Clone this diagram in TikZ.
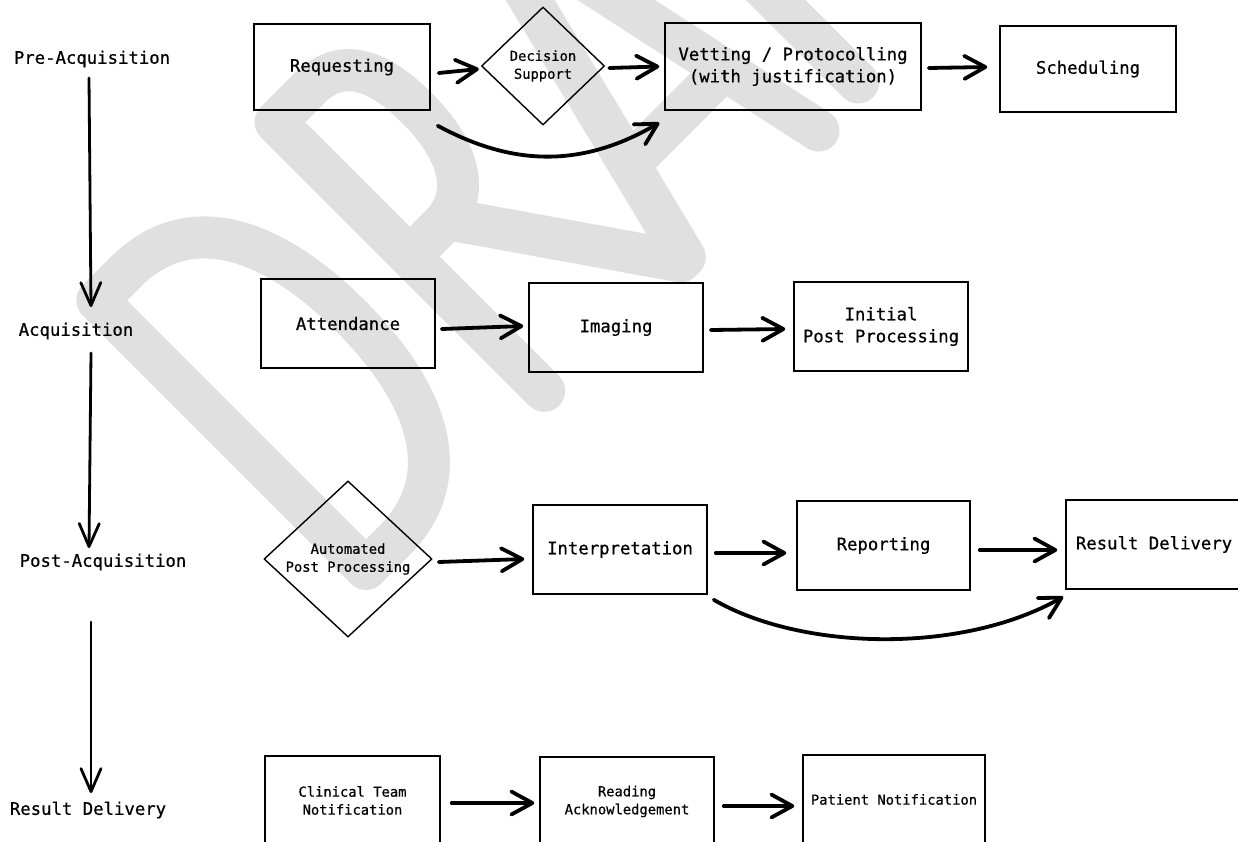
\documentclass[tikz,border=0pt]{standalone}
\usepackage{fontspec}
\setmonofont[FakeBold=0.6]{DejaVu Sans Mono}
\usetikzlibrary{shapes.geometric,arrows.meta,calc}
\newcommand\mytxtL{\ttfamily\fontsize{17.3}{22}\selectfont}
\newcommand\mytxtS{\ttfamily\fontsize{13.8}{18}\selectfont}
\begin{document}
\begin{tikzpicture}[x=1pt,y=-1pt,
  box/.style={draw, line width=1.5pt, inner sep=0pt, align=center, font=\mytxtL},
  sbox/.style={box, font=\mytxtS},
  dia/.style={draw, shape=diamond, line width=1.4pt, inner sep=0pt, align=center, font=\mytxtS},
  lab/.style={inner sep=0pt, font=\mytxtL},
  arr/.style={line width=3.8pt, line cap=round, -{Straight Barb[round,length=21pt,width=23pt]}},
  varr/.style={line width=2.8pt, line cap=round, -{Straight Barb[round,length=23pt,width=20pt]}},
  wmk/.style={line width=42pt, line cap=round, line join=round, draw=black!12}
]
\useasboundingbox (0,0) rectangle (1238,841);
\fill[white] (0,0) rectangle (1238,841);

% watermark
\coordinate (wmO) at (366,569);
\begin{scope}[shift={(wmO)}, x={(0.7071pt,0.7071pt)}, y={(-0.7071pt,0.7071pt)}, wmk]
  \draw (0,0) -- (0,380) -- (40,380) .. controls (130,380) and (168,300) .. (168,190)
        .. controls (168,80) and (130,0) .. (40,0) -- cycle;
  \draw (252,0) -- (252,380) -- (300,380) .. controls (345,380) and (362,345) .. (362,290)
        .. controls (362,230) and (340,190) .. (295,190) -- (252,190);
  \draw (305,190) -- (440,-5);
  \draw (446,-5) -- (544,389) -- (630,-10);
  \draw (472,100) -- (606,100);
  \draw (692,-4) -- (692,380) -- (850,380);
  \draw (692,200) -- (820,200);
  \draw (900,380) -- (1100,380);
  \draw (1000,380) -- (1000,0);
\end{scope}

% stage labels
\node[lab] (pre) at (92,59) {Pre-Acquisition};
\node[lab] (acq) at (76,331) {Acquisition};
\node[lab] (post) at (103,562) {Post-Acquisition};
\node[lab] (rd) at (88,810) {Result Delivery};

% row 1
\node[box, minimum width=176pt, minimum height=86pt] (req) at (342,67) {Requesting};
\node[dia, minimum width=123pt, minimum height=118pt] (dec) at (543,66) {Decision\\Support};
\node[box, minimum width=256pt, minimum height=87pt] (vet) at (793,66.5) {Vetting / Protocolling\\(with justification)};
\node[box, minimum width=176pt, minimum height=86pt] (sch) at (1088,69) {Scheduling};

% row 2
\node[box, minimum width=174pt, minimum height=89pt] (att) at (348,323.5) {Attendance};
\node[box, minimum width=174pt, minimum height=89pt] (img) at (616,327.5) {Imaging};
\node[box, minimum width=174pt, minimum height=89pt] (ini) at (881,326.5) {Initial\\Post Processing};

% row 3
\node[dia, minimum width=168pt, minimum height=152pt] (aut) at (348,559) {Automated\\Post Processing};
\node[box, minimum width=174pt, minimum height=89pt] (int) at (620,549.5) {Interpretation};
\node[box, minimum width=173pt, minimum height=89pt] (rep) at (883.5,545.5) {Reporting};
\node[box, minimum width=176pt, minimum height=89pt] (res) at (1154,544.5) {Result Delivery};

% row 4
\node[sbox, minimum width=175pt, minimum height=89pt] (cli) at (352.5,800.5) {Clinical Team\\Notification};
\node[sbox, minimum width=174pt, minimum height=89pt] (rea) at (627,801.5) {Reading\\Acknowledgement};
\node[sbox, minimum width=182pt, minimum height=89pt] (pat) at (894,799.5) {Patient Notification};

% vertical arrows
\draw[varr] ($(pre)+(-3,19)$) -- ($(acq)+(15,-24)$);
\draw[varr] ($(acq)+(15,22)$) -- ($(post)+(-14,-14)$);
\draw[varr] ($(post)+(-12,60)$) -- ($(rd)+(3,-17)$);

% row 1 arrows
\draw[arr] ($(req.east)+(8,6)$) -- ($(dec.west)+(-2,3)$);
\draw[arr] ($(dec.east)+(4,2)$) -- ($(vet.west)+(-5,0)$);
\draw[arr] ($(vet.east)+(7,1.5)$) -- ($(sch.west)+(-12,-2)$);
\draw[arr] ($(req.south east)+(7,15)$) .. controls (505,162) and (575,172) .. ($(vet.south west)+(-5,12)$);

% row 2 arrows
\draw[arr] ($(att.east)+(6,5.5)$) -- ($(img.west)+(-5,-1.5)$);
\draw[arr] ($(img.east)+(7,2.5)$) -- ($(ini.west)+(-8,2.5)$);

% row 3 arrows
\draw[arr] ($(aut.east)+(6,3)$) -- ($(int.west)+(-8,9.5)$);
\draw[arr] ($(int.east)+(8,3.5)$) -- ($(rep.west)+(-10,7.5)$);
\draw[arr] ($(rep.east)+(9,4.5)$) -- ($(res.west)+(-8,5.5)$);
\draw[arr] ($(int.south east)+(6,5)$) .. controls (800,650) and (960,655) .. ($(res.south west)+(-2,7)$);

% row 4 arrows
\draw[arr] ($(cli.east)+(11,2.5)$) -- ($(rea.west)+(-5,1.5)$);
\draw[arr] ($(rea.east)+(9,4.5)$) -- ($(pat.west)+(-8,6.5)$);
\end{tikzpicture}
\end{document}
